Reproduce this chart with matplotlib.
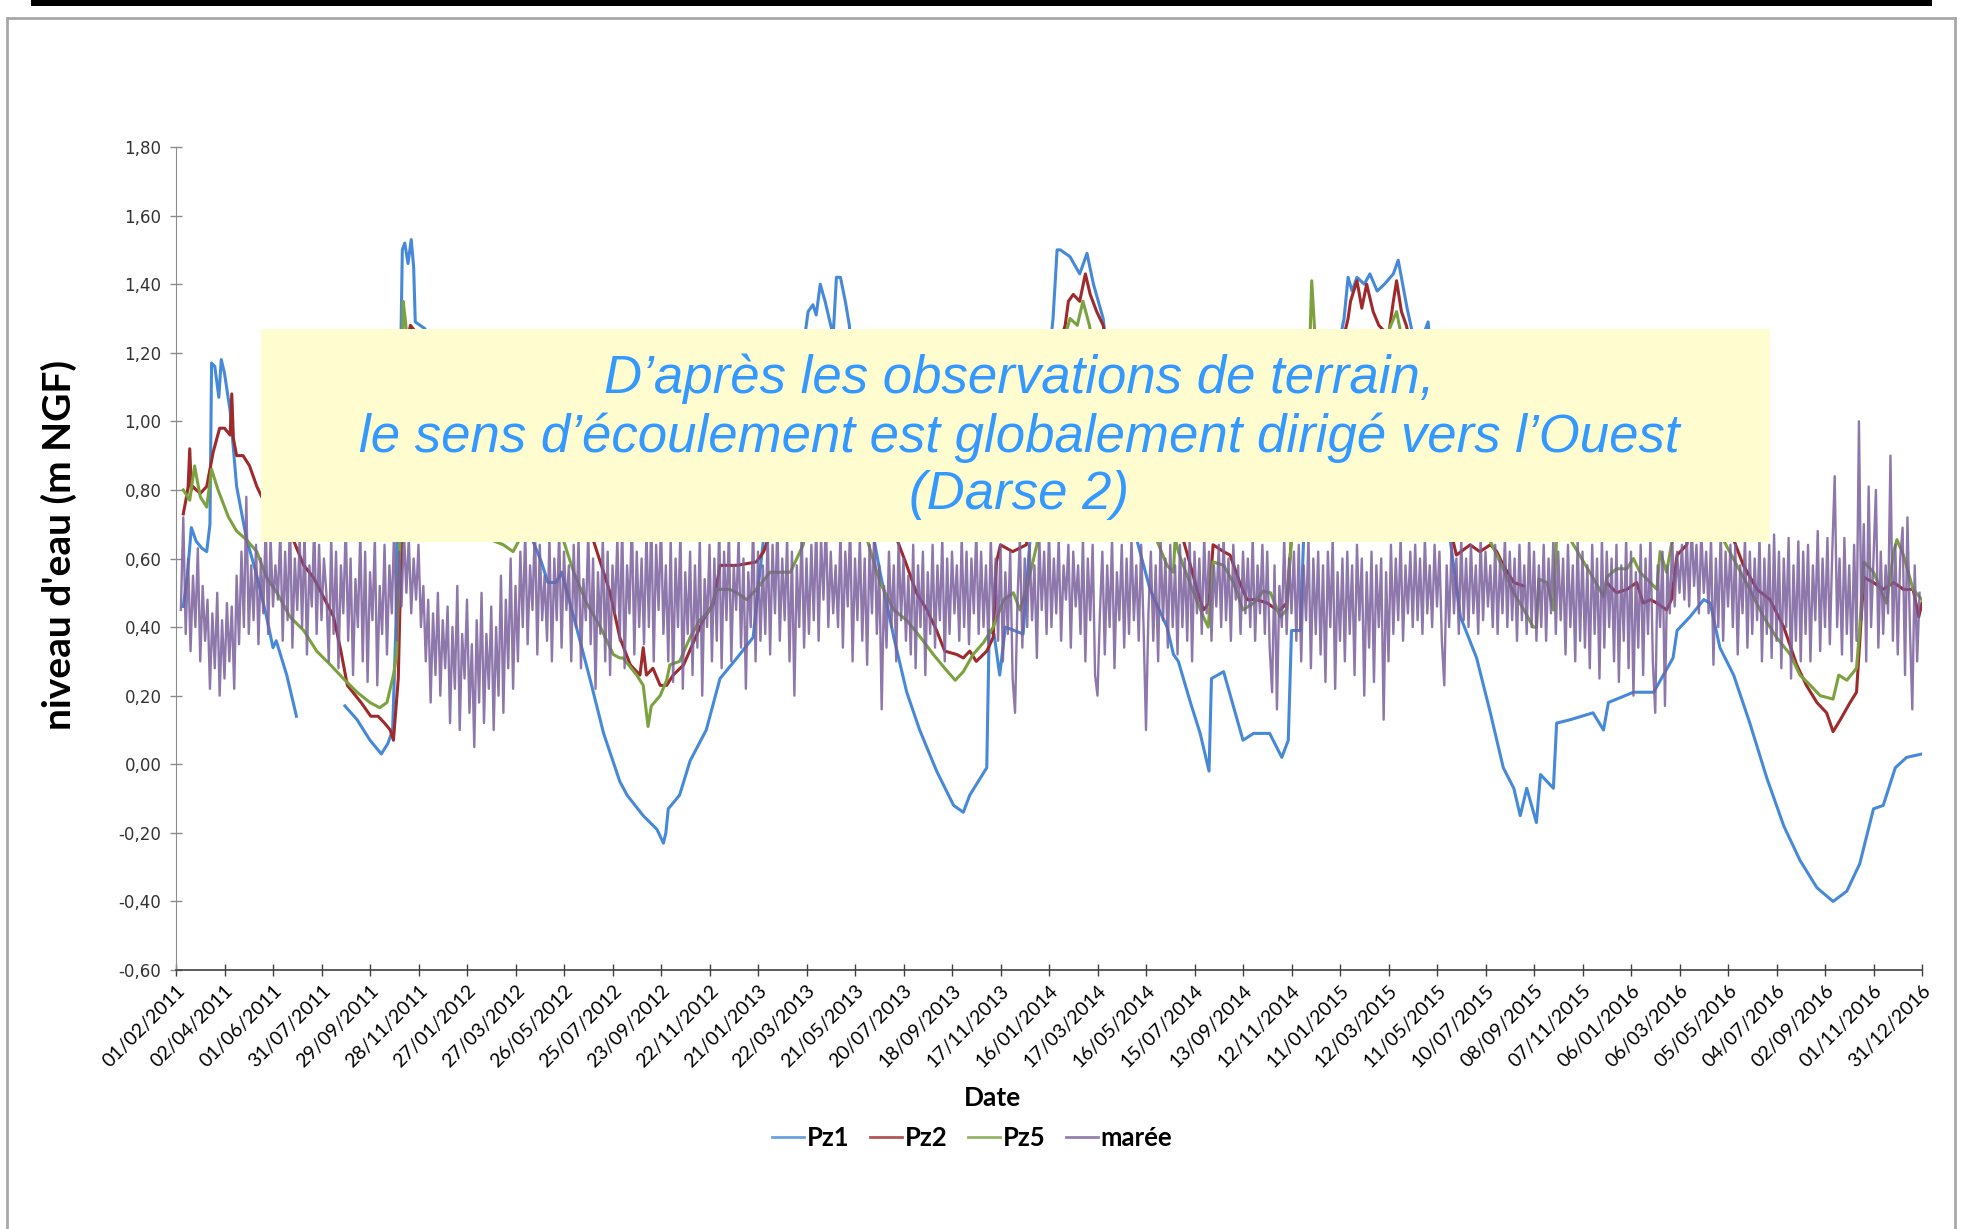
import numpy as np
import pandas as pd
import matplotlib
matplotlib.use('Agg')
import matplotlib.pyplot as plt
from matplotlib.patches import Rectangle
from matplotlib.lines import Line2D

nan = np.nan
start = pd.Timestamp('2011-02-01')

tick_labels = ['01/02/2011', '02/04/2011', '01/06/2011', '31/07/2011', '29/09/2011', '28/11/2011',
               '27/01/2012', '27/03/2012', '26/05/2012', '25/07/2012', '23/09/2012', '22/11/2012',
               '21/01/2013', '22/03/2013', '21/05/2013', '20/07/2013', '18/09/2013', '17/11/2013',
               '16/01/2014', '17/03/2014', '16/05/2014', '15/07/2014', '13/09/2014', '12/11/2014',
               '11/01/2015', '12/03/2015', '11/05/2015', '10/07/2015', '08/09/2015', '07/11/2015',
               '06/01/2016', '06/03/2016', '05/05/2016', '04/07/2016', '02/09/2016', '01/11/2016',
               '31/12/2016']
y_ticks = [-0.60, -0.40, -0.20, 0.00, 0.20, 0.40, 0.60, 0.80, 1.00, 1.20, 1.40, 1.60, 1.80]
series_names = ['Pz1', 'Pz2', 'Pz5', 'marée']

# (days since 01/02/2011, level m NGF)
pz1 = [(9,0.46),(14,0.55),(19,0.69),(25,0.65),(32,0.63),(38,0.62),(42,0.70),(44,1.17),(48,1.16),(53,1.07),
       (56,1.18),(60,1.14),(67,1.03),(75,0.81),(87,0.66),(100,0.55),(112,0.43),(120,0.34),(124,0.36),(137,0.26),
       (149,0.14),(150,nan),(208,nan),(209,0.17),(224,0.13),(240,0.07),(254,0.03),(262,0.06),(268,0.10),(272,0.40),
       (276,0.90),(280,1.50),(283,1.52),(287,1.46),(291,1.53),(294,1.45),(296,1.29),(302,1.28),(308,1.27),(320,1.10),
       (350,0.95),(380,0.85),(410,0.75),(440,0.66),(452,0.59),(460,0.53),(470,0.53),(477,0.56),(484,0.50),(492,0.43),
       (512,0.25),(529,0.09),(549,-0.05),(558,-0.09),(578,-0.15),(595,-0.19),(603,-0.23),(606,-0.20),(609,-0.13),(623,-0.09),
       (636,0.01),(656,0.10),(673,0.25),(694,0.31),(714,0.37),(720,0.51),(727,0.66),(740,0.90),(760,1.10),(778,1.25),
       (782,1.32),(788,1.34),(792,1.31),(797,1.40),(803,1.35),(808,1.30),(813,1.25),(817,1.42),(822,1.42),(828,1.35),
       (833,1.28),(845,0.90),(860,0.70),(871,0.56),(888,0.37),(904,0.21),(920,0.10),(941,-0.02),(962,-0.12),(974,-0.14),
       (982,-0.09),(1003,-0.01),(1006,0.39),(1012,0.38),(1019,0.26),(1026,0.40),(1048,0.38),(1056,0.64),(1070,0.95),(1085,1.30),
       (1090,1.50),(1094,1.50),(1106,1.48),(1118,1.43),(1127,1.49),(1135,1.40),(1147,1.30),(1165,0.90),(1188,0.66),(1205,0.51),
       (1226,0.40),(1234,0.32),(1240,0.30),(1255,0.18),(1267,0.09),(1278,-0.02),(1281,0.25),(1296,0.27),(1308,0.17),(1320,0.07),
       (1333,0.09),(1353,0.09),(1368,0.02),(1376,0.07),(1380,0.39),(1391,0.39),(1395,0.66),(1420,1.00),(1445,1.30),(1450,1.42),
       (1455,1.38),(1461,1.42),(1470,1.40),(1477,1.43),(1486,1.38),(1495,1.40),(1506,1.43),(1512,1.47),(1523,1.33),(1535,1.20),
       (1549,1.29),(1560,1.00),(1576,0.66),(1589,0.43),(1609,0.31),(1626,0.15),(1642,-0.01),(1655,-0.07),(1663,-0.15),(1671,-0.07),
       (1683,-0.17),(1688,-0.03),(1704,-0.07),(1708,0.12),(1725,0.13),(1753,0.15),(1766,0.10),(1772,0.18),(1803,0.21),(1828,0.21),
       (1840,0.26),(1852,0.31),(1857,0.39),(1873,0.43),(1890,0.48),(1898,0.47),(1910,0.34),(1927,0.26),(1947,0.12),(1968,-0.04),
       (1989,-0.18),(2009,-0.28),(2030,-0.36),(2050,-0.40),(2067,-0.37),(2083,-0.29),(2100,-0.13),(2112,-0.12),(2127,-0.01),(2141,0.02),
       (2160,0.03)]

pz2 = [(9,0.73),(13,0.78),(15,0.81),(17,0.92),(19,0.80),(21,0.81),(25,0.80),(30,0.79),(38,0.81),(46,0.91),
       (54,0.98),(60,0.98),(67,0.96),(69,1.08),(71,0.95),(75,0.90),(83,0.90),(91,0.87),(100,0.81),(106,0.78),
       (120,0.72),(135,0.68),(145,0.655),(158,0.58),(170,0.545),(182,0.49),(195,0.43),(204,0.33),(212,0.23),(229,0.18),
       (241,0.14),(250,0.14),(258,0.12),(265,0.10),(269,0.07),(275,0.25),(279,0.66),(283,1.20),(290,1.28),(300,1.25),
       (330,1.10),(380,0.95),(420,0.85),(470,0.75),(516,0.655),(529,0.56),(537,0.50),(549,0.37),(562,0.29),(574,0.26),
       (578,0.34),(582,0.26),(590,0.28),(599,0.23),(607,0.23),(615,0.26),(628,0.29),(640,0.355),(652,0.42),(665,0.47),
       (673,0.58),(694,0.58),(718,0.59),(727,0.62),(733,0.66),(760,0.90),(800,1.10),(830,1.00),(860,0.80),(892,0.655),
       (904,0.58),(916,0.50),(929,0.45),(941,0.39),(951,0.33),(966,0.32),(974,0.31),(982,0.33),(990,0.30),(1003,0.33),
       (1011,0.37),(1015,0.59),(1020,0.64),(1035,0.62),(1052,0.64),(1070,0.90),(1090,1.20),(1100,1.28),(1104,1.35),(1110,1.37),
       (1118,1.35),(1125,1.43),(1131,1.37),(1139,1.32),(1147,1.28),(1170,1.00),(1210,0.80),(1246,0.655),(1255,0.58),(1263,0.51),
       (1271,0.45),(1278,0.47),(1283,0.64),(1296,0.62),(1304,0.61),(1316,0.53),(1325,0.48),(1337,0.48),(1350,0.47),(1362,0.45),
       (1366,0.45),(1374,0.47),(1380,0.66),(1400,1.00),(1440,1.20),(1450,1.30),(1453,1.35),(1461,1.41),(1467,1.33),(1473,1.40),
       (1481,1.32),(1488,1.28),(1500,1.25),(1506,1.35),(1510,1.41),(1516,1.32),(1522,1.28),(1550,1.00),(1575,0.70),(1584,0.61),
       (1601,0.64),(1613,0.62),(1626,0.64),(1634,0.62),(1642,0.58),(1655,0.53),(1667,0.52),(1668,nan),(1769,nan),(1770,0.53),
       (1782,0.50),(1795,0.51),(1807,0.53),(1815,0.47),(1824,0.48),(1832,0.47),(1844,0.45),(1850,0.48),(1857,0.61),(1869,0.64),
       (1880,0.80),(1900,0.85),(1915,0.75),(1927,0.655),(1939,0.58),(1956,0.51),(1972,0.48),(1989,0.40),(2005,0.29),(2017,0.23),
       (2030,0.18),(2042,0.15),(2050,0.095),(2059,0.13),(2071,0.18),(2079,0.21),(2088,0.545),(2100,0.53),(2112,0.51),(2125,0.53),
       (2137,0.51),(2149,0.51),(2156,0.43),(2160,0.47)]

pz5 = [(9,0.80),(17,0.77),(23,0.87),(30,0.78),(38,0.75),(44,0.86),(52,0.80),(65,0.72),(75,0.68),(87,0.655),
       (100,0.62),(112,0.545),(125,0.50),(141,0.43),(158,0.39),(174,0.33),(191,0.29),(207,0.25),(224,0.21),(240,0.18),
       (252,0.165),(261,0.18),(269,0.26),(273,0.32),(277,0.66),(280,1.20),(281,1.35),(284,1.29),(290,1.10),(330,0.90),
       (370,0.75),(389,0.655),(405,0.64),(417,0.62),(426,0.66),(450,0.80),(479,0.655),(492,0.56),(508,0.47),(525,0.40),
       (541,0.32),(549,0.31),(553,0.31),(570,0.26),(578,0.23),(584,0.11),(588,0.17),(599,0.20),(607,0.245),(611,0.29),
       (623,0.30),(636,0.37),(648,0.42),(661,0.45),(669,0.51),(685,0.51),(694,0.50),(706,0.48),(718,0.51),(735,0.56),
       (760,0.56),(776,0.64),(790,0.90),(820,1.10),(840,0.85),(855,0.655),(871,0.53),(888,0.45),(904,0.42),(921,0.37),
       (937,0.32),(951,0.28),(964,0.245),(974,0.27),(986,0.32),(999,0.355),(1011,0.40),(1024,0.48),(1036,0.50),(1044,0.45),
       (1052,0.51),(1065,0.64),(1085,1.00),(1100,1.25),(1106,1.30),(1115,1.28),(1122,1.35),(1130,1.28),(1150,1.00),(1190,0.80),
       (1213,0.655),(1226,0.58),(1234,0.56),(1236,0.66),(1240,0.62),(1246,0.58),(1259,0.50),(1271,0.43),(1277,0.40),(1283,0.59),
       (1296,0.58),(1308,0.53),(1320,0.45),(1333,0.47),(1345,0.505),(1354,0.50),(1366,0.43),(1374,0.45),(1380,0.66),(1395,1.00),
       (1403,1.25),(1405,1.41),(1409,1.25),(1430,1.00),(1480,1.15),(1510,1.32),(1520,1.20),(1560,0.90),(1600,0.75),(1625,0.655),
       (1640,0.58),(1655,0.50),(1670,0.44),(1679,0.40),(1683,0.40),(1686,0.54),(1696,0.53),(1704,0.45),(1708,0.66),(1716,0.75),
       (1725,0.655),(1749,0.56),(1766,0.49),(1770,0.545),(1782,0.57),(1795,0.57),(1803,0.60),(1811,0.56),(1824,0.53),(1832,0.51),
       (1836,0.62),(1844,0.56),(1850,0.64),(1870,0.85),(1895,0.80),(1914,0.655),(1931,0.58),(1947,0.51),(1964,0.43),(1980,0.37),
       (1997,0.32),(2009,0.26),(2022,0.23),(2034,0.20),(2050,0.19),(2057,0.26),(2067,0.245),(2079,0.28),(2083,0.40),(2088,0.59),
       (2100,0.56),(2116,0.47),(2125,0.62),(2129,0.655),(2137,0.61),(2149,0.51),(2160,0.48)]

# tide level (cm NGF), one reading every 3 days starting 07/02/2011 (day 6)
maree_first_day = 6
maree_step_days = 3
maree_cm = [
    45,72,38,60,33,55,40,63,30,52,  36,48,22,44,28,50,20,42,25,47,  30,46,22,55,35,62,40,78,38,58,
    42,64,35,60,44,70,38,66,46,58,  48,68,36,62,42,72,34,60,45,66,  40,68,32,58,46,70,38,64,42,60,
    50,30,66,38,62,28,58,44,70,36,  60,26,54,40,68,30,62,24,56,42,  66,23,52,38,64,32,58,44,70,36,
    62,46,68,50,66,44,60,48,64,40,  52,30,48,18,44,26,50,20,42,28,  46,12,40,22,52,10,38,25,48,15,
    35,5,42,18,50,12,38,22,46,10,   40,20,55,15,48,28,60,22,52,30,  62,40,68,35,58,45,70,32,64,42,
    55,36,66,30,60,42,68,34,62,45,  58,30,64,40,66,28,54,42,68,35,  60,22,56,38,66,30,62,26,58,44,
    66,36,70,28,58,44,72,32,62,40,  60,35,68,40,72,30,64,45,70,38,  58,30,66,24,60,40,68,22,56,38,
    62,26,58,34,66,20,54,40,64,30,  60,36,70,28,62,42,68,30,58,45,  66,34,60,22,56,40,70,30,62,36,
    58,38,68,32,64,44,70,36,60,42,  66,30,62,20,58,40,68,34,60,38,  64,42,70,36,66,48,72,40,62,44,
    58,40,68,34,62,46,70,30,60,42,  66,36,60,29,64,44,70,38,58,16,  52,34,62,40,58,30,66,42,60,36,
    55,32,64,28,58,40,62,26,56,38,  64,34,58,42,66,30,60,38,62,44,  58,36,66,40,62,35,60,44,68,38,
    62,40,58,35,66,42,60,36,64,30,  56,38,62,25,15,48,66,34,60,40,  64,42,58,31,66,45,62,38,68,40,
    60,44,66,36,58,48,64,34,62,46,  58,38,66,30,60,42,64,26,20,44,  62,32,58,40,66,28,56,42,64,34,
    60,38,66,42,58,36,64,40,10,44,  62,36,58,30,66,42,60,34,64,40,  58,32,64,40,60,36,66,30,62,44,
    60,38,66,44,62,36,58,46,64,40,  66,42,60,36,64,48,58,38,62,44,  60,40,66,36,58,44,64,38,62,34,
    21,58,16,52,40,66,38,60,44,62,  36,64,30,58,42,66,28,60,38,62,  32,58,24,62,40,66,22,56,36,60,
    30,62,38,58,26,64,42,60,20,56,  34,62,24,58,40,60,13,56,30,64,  38,60,42,66,36,58,44,62,40,64,
    42,60,38,66,44,58,40,64,46,62,  36,23,58,40,64,44,60,38,66,42,  60,40,64,44,58,38,66,42,62,46,
    58,40,64,38,60,44,66,40,62,42,  60,36,64,42,58,38,66,40,62,36,  58,40,64,36,60,44,66,38,62,42,
    60,32,64,40,58,30,66,36,62,34,  58,28,64,38,60,25,66,34,62,40,  60,30,64,24,58,36,66,28,62,20,
    56,34,64,26,60,38,66,30,15,58,  40,62,17,58,44,66,46,62,50,64,  48,66,46,70,52,64,44,68,50,62,
    44,66,29,60,40,68,36,62,46,64,  40,64,32,58,44,66,34,62,38,60,  42,66,30,60,38,64,31,67,36,62,
    28,60,40,66,25,58,36,65,30,62,  38,64,30,58,42,68,33,60,40,66,  35,62,84,40,60,32,66,38,58,30,
    64,36,100,42,70,30,81,40,60,80, 34,62,38,58,44,90,36,64,32,60,  69,26,72,40,16,58,30,50]

annotation_lines = ["D\u2019après les observations de terrain,",
                    "le sens d\u2019écoulement est globalement dirigé vers l\u2019Ouest",
                    "(Darse 2)"]

colors = {'Pz1': '#4689D8', 'Pz2': '#9E2A2B', 'Pz5': '#7BA23F', 'marée': '#7A5F9C'}

# ---------------------------------------------------------------------------
W, H = 1961, 1229
fig = plt.figure(figsize=(W / 100, H / 100), dpi=100)
ax = fig.add_axes([176 / W, 1 - 970 / H, (1922 - 176) / W, (970 - 147) / H])

def to_dates(days):
    return start + pd.to_timedelta(np.asarray(days, dtype=float), unit='D')

for name, data in (('Pz1', pz1), ('Pz2', pz2), ('Pz5', pz5)):
    d = [p[0] for p in data]
    v = [p[1] for p in data]
    ax.plot(to_dates(d), v, color=colors[name], lw=2.2, label=name, zorder=2)

m_days = maree_first_day + maree_step_days * np.arange(len(maree_cm))
ax.plot(to_dates(m_days), np.array(maree_cm) / 100.0, color=colors['marée'], lw=1.7,
        alpha=0.85, label='marée', zorder=3)

tick_dates = pd.to_datetime(tick_labels, format='%d/%m/%Y')
ax.set_xlim(tick_dates[0], tick_dates[-1])
ax.set_xticks(tick_dates)
ax.set_xticklabels(tick_labels, rotation=45, ha='right', va='top', rotation_mode='anchor',
                   fontsize=14, family='Lato')
ax.set_ylim(-0.6, 1.8)
ax.set_yticks(y_ticks)
ax.set_yticklabels([f"{t:.2f}".replace('.', ',') for t in y_ticks], fontsize=12, family='DejaVu Sans',
                   color='#333333')

for s in ('top', 'right'):
    ax.spines[s].set_visible(False)
ax.spines['left'].set_color('#8c8c8c')
ax.spines['bottom'].set_color('#404040')
ax.spines['bottom'].set_linewidth(1.2)
ax.tick_params(axis='y', direction='inout', length=9, width=1, color='#8c8c8c', pad=6)
ax.tick_params(axis='x', direction='inout', length=9, width=1, color='#404040', pad=4)

ax.set_ylabel("niveau d'eau (m NGF)", fontsize=28, fontweight='bold', family='Lato')
ax.yaxis.set_label_coords(-0.0565, 0.516)
fig.text(993 / W, 1 - 1098 / H, 'Date', fontsize=19, fontweight='bold', family='Lato',
         ha='center', va='center')

leg = fig.legend(loc='center', bbox_to_anchor=(972 / W, 1 - 1138 / H), ncol=4, frameon=False,
                 prop={'family': 'Lato', 'weight': 'bold', 'size': 18.5},
                 handlelength=1.25, handletextpad=0.1, columnspacing=0.8)
for h in leg.get_lines():
    h.set_linewidth(2.0)
    h.set_alpha(0.8)

# yellow annotation box
fig.add_artist(Rectangle((261 / W, 1 - 542 / H), (1770 - 261) / W, (542 - 329) / H,
                         transform=fig.transFigure, facecolor='#FFFDCF', edgecolor='none', zorder=10))
fig.text(1019 / W, 1 - 437 / H, "\n".join(annotation_lines), fontsize=38, style='italic',
         family='Liberation Sans', color='#3399FF', ha='center', va='center',
         multialignment='center', linespacing=1.2, zorder=11)

# slide frame
fig.add_artist(Rectangle((31 / W, 1 - 6 / H), (1932 - 31) / W, 6 / H, transform=fig.transFigure,
                         facecolor='black', edgecolor='none'))
for xs, ys in (([7 / W, 7 / W], [0, 1 - 18 / H]), ([1955 / W, 1955 / W], [0, 1 - 18 / H]),
               ([7 / W, 1955 / W], [1 - 18 / H, 1 - 18 / H])):
    fig.add_artist(Line2D(xs, ys, transform=fig.transFigure, color='#a8a8a8', lw=2))

fig.savefig('out.png', dpi=100)
